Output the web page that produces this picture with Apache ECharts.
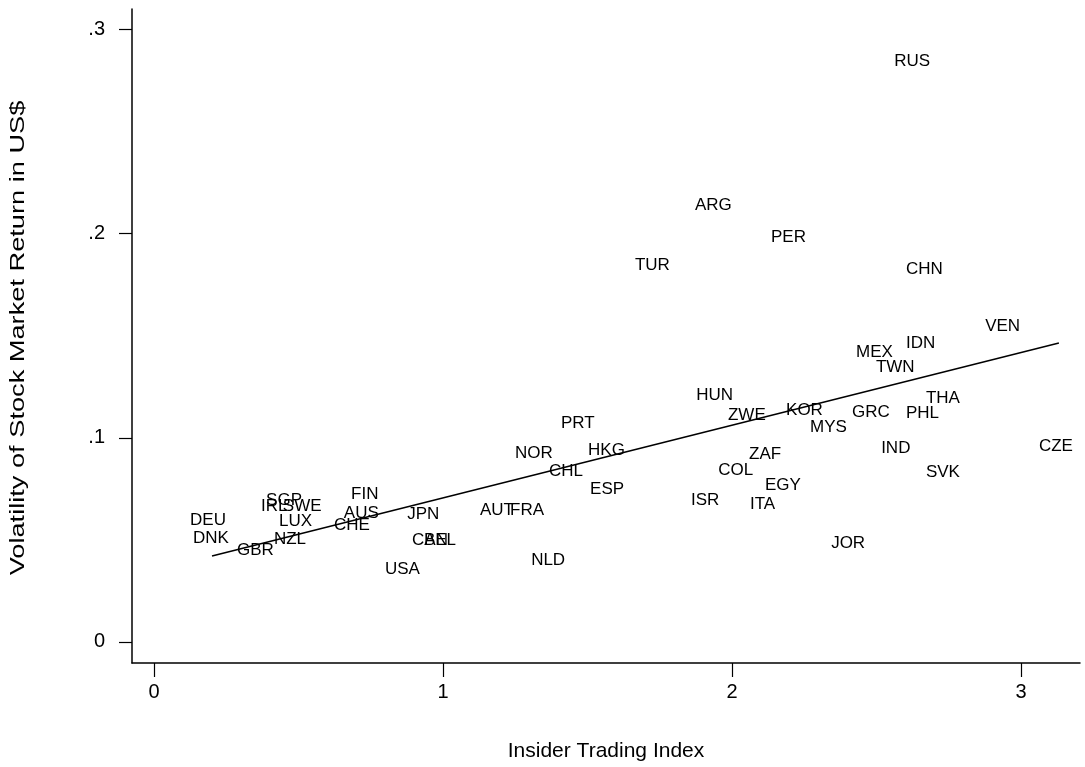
<!DOCTYPE html>
<html>
<head>
<meta charset="utf-8">
<script src="https://cdn.jsdelivr.net/npm/echarts@6/dist/echarts.min.js"></script>
<style>html,body{margin:0;padding:0;background:#fff}#c{width:1085px;height:767px}</style>
</head>
<body>
<div id="c"></div>
<script>
const countries = ["RUS","ARG","PER","TUR","CHN","VEN","IDN","MEX","TWN","HUN","THA","KOR","ZWE","GRC","PHL","MYS","PRT","NOR","HKG","IND","CZE","ZAF","CHL","COL","SVK","ESP","EGY","ISR","ITA","FIN","SGP","IRL","SWE","AUS","AUT","FRA","JPN","DEU","LUX","CHE","DNK","NZL","CAN","BEL","GBR","USA","NLD","JOR"];
const insiderIndex = [2.554,1.865,2.128,1.657,2.595,2.869,2.595,2.422,2.491,1.869,2.664,2.180,1.979,2.408,2.595,2.263,1.401,1.242,1.495,2.509,3.055,2.052,1.360,1.945,2.664,1.502,2.107,1.851,2.055,0.675,0.381,0.363,0.439,0.650,1.121,1.225,0.869,0.118,0.426,0.616,0.128,0.408,0.886,0.927,0.280,0.792,1.298,2.336];
const volatility = [0.2845,0.2140,0.1983,0.1846,0.1827,0.1548,0.1464,0.1420,0.1347,0.1210,0.1195,0.1136,0.1112,0.1126,0.1121,0.1053,0.1072,0.0926,0.0940,0.0950,0.0960,0.0921,0.0837,0.0842,0.0833,0.0749,0.0769,0.0695,0.0676,0.0725,0.0695,0.0666,0.0666,0.0632,0.0646,0.0646,0.0627,0.0597,0.0593,0.0573,0.0509,0.0504,0.0500,0.0500,0.0451,0.0357,0.0402,0.0485];
const fitX = [0.2007, 3.131];
const fitY = [0.0421, 0.1464];
const xTicks = [0, 1, 2, 3];
const yTicks = [0, 0.1, 0.2, 0.3];
const xTitle = 'Insider Trading Index';
const yTitle = 'Volatility of Stock Market Return in US$';

const chart = echarts.init(document.getElementById('c'), null, {renderer: 'canvas'});
const font = 'Liberation Sans, Arial, sans-serif';
chart.setOption({
  animation: false,
  backgroundColor: '#fff',
  grid: {left: 132, right: 5, top: 9, bottom: 104, containLabel: false},
  graphic: [{
    type: 'text', x: 18, y: 338, rotation: Math.PI / 2, scaleX: 1.36, scaleY: 1,
    style: {text: yTitle, fill: '#000', font: '20px ' + font, align: 'center', verticalAlign: 'middle'}
  }],
  xAxis: {
    type: 'value', min: -0.0761, max: 3.204,
    name: xTitle, nameLocation: 'middle', nameGap: 78,
    nameTextStyle: {fontFamily: font, fontSize: 21, color: '#000'},
    axisLine: {onZero: false, lineStyle: {color: '#000', width: 1.5}},
    axisTick: {show: true, length: 14, lineStyle: {color: '#000', width: 1.2}, customValues: xTicks},
    axisLabel: {fontFamily: font, fontSize: 20, color: '#000', margin: 19, customValues: xTicks, formatter: v => String(v)},
    splitLine: {show: false}
  },
  yAxis: {
    type: 'value', min: -0.0103, max: 0.31,
    axisLine: {onZero: false, lineStyle: {color: '#000', width: 1.5}},
    axisTick: {show: true, length: 13, lineStyle: {color: '#000', width: 1.2}, customValues: yTicks},
    axisLabel: {fontFamily: font, fontSize: 20, color: '#000', margin: 27, customValues: yTicks,
      formatter: v => { const r = Math.round(v * 10) / 10; return r === 0 ? '0' : String(r).replace(/^0/, ''); }},
    splitLine: {show: false}
  },
  series: [
    {
      type: 'scatter',
      symbolSize: 0,
      itemStyle: {opacity: 1},
      data: countries.map((c, i) => ({name: c, value: [insiderIndex[i], volatility[i]]})),
      label: {show: true, position: 'right', distance: 2, formatter: p => p.name,
        fontFamily: font, fontSize: 17, color: '#000'},
      z: 3
    },
    {
      type: 'line',
      data: fitX.map((x, i) => [x, fitY[i]]),
      symbol: 'none',
      lineStyle: {color: '#000', width: 1.5},
      z: 2
    }
  ]
});
</script>
</body>
</html>
